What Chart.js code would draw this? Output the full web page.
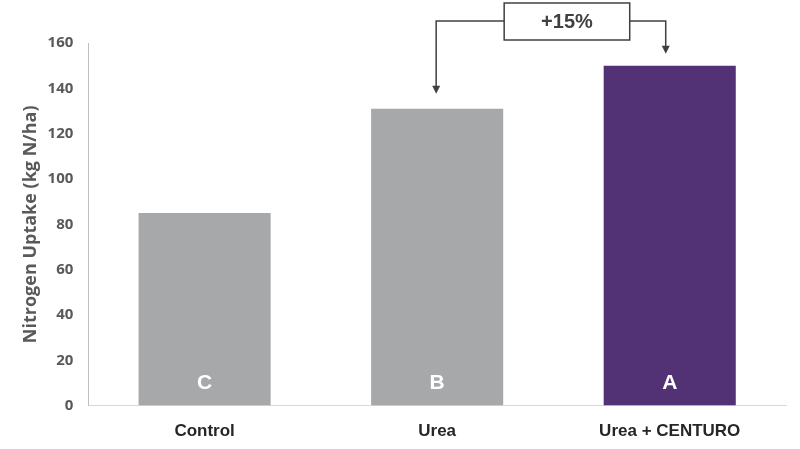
<!DOCTYPE html>
<html><head><meta charset="utf-8">
<script src="https://cdn.jsdelivr.net/npm/chart.js@4.4.1/dist/chart.umd.min.js"></script>
<style>html,body{margin:0;padding:0;background:#fff}#wrap{width:800px;height:449px;position:relative}</style>
</head><body><div id="wrap"><canvas id="c"></canvas></div>
<script>
const categories = ["Control", "Urea", "Urea + CENTURO"];
const uptake = [85, 131, 150];
const letters = ["C", "B", "A"];
const barColors = ["#a7a8aa", "#a7a8aa", "#523175"];
const yTicks = [0, 20, 40, 60, 80, 100, 120, 140, 160];
const yTitle = "Nitrogen Uptake (kg N/ha)";
const changeLabel = "+15%";

const overlay = {
  id: "overlay",
  afterDatasetsDraw(chart) {
    const ctx = chart.ctx;
    const meta = chart.getDatasetMeta(0);
    const y0 = chart.scales.y.getPixelForValue(0);
    ctx.save();
    ctx.fillStyle = "#ffffff";
    ctx.font = "bold 21px 'Liberation Sans', Arial, sans-serif";
    ctx.textAlign = "center";
    ctx.textBaseline = "middle";
    meta.data.forEach((bar, i) => {
      ctx.fillText(letters[i], bar.x, y0 - 22);
    });
    const b1 = meta.data[1], b2 = meta.data[2];
    const lx = b1.x - 1, rx = b2.x - 4;
    const boxL = b1.x + 67, boxR = b2.x - 40, boxT = 3, boxB = 40;
    const ly = 21;
    ctx.strokeStyle = "#404040";
    ctx.fillStyle = "#404040";
    ctx.lineWidth = 1.5;
    ctx.beginPath();
    ctx.moveTo(boxL, ly); ctx.lineTo(lx, ly); ctx.lineTo(lx, b1.y - 22);
    ctx.moveTo(boxR, ly); ctx.lineTo(rx, ly); ctx.lineTo(rx, b2.y - 19);
    ctx.stroke();
    const arrow = (x, tip) => {
      ctx.beginPath();
      ctx.moveTo(x - 4, tip - 8); ctx.lineTo(x + 4, tip - 8); ctx.lineTo(x, tip); ctx.closePath(); ctx.fill();
    };
    arrow(lx, b1.y - 15);
    arrow(rx, b2.y - 12);
    ctx.fillStyle = "#ffffff";
    ctx.fillRect(boxL, boxT, boxR - boxL, boxB - boxT);
    ctx.strokeRect(boxL, boxT, boxR - boxL, boxB - boxT);
    ctx.fillStyle = "#404040";
    ctx.font = "bold 20px 'Liberation Sans', Arial, sans-serif";
    ctx.fillText(changeLabel, (boxL + boxR) / 2, (boxT + boxB) / 2 + 1);
    ctx.restore();
  }
};

new Chart(document.getElementById("c"), {
  type: "bar",
  data: {
    labels: categories,
    datasets: [{ data: uptake, backgroundColor: barColors, borderWidth: 0, categoryPercentage: 1, barPercentage: 0.568 }]
  },
  options: {
    responsive: true, maintainAspectRatio: false, animation: false, devicePixelRatio: 1,
    layout: { padding: { top: 43, right: 14, bottom: 0, left: 20 } },
    plugins: { legend: { display: false }, tooltip: { enabled: false } },
    scales: {
      x: {
        afterFit: (s) => { s.height = s.height - 9; },
        grid: { display: false, drawTicks: false },
        border: { color: "#d9d9d9", width: 1 },
        ticks: { color: "#262626", font: { family: "'Liberation Sans', Arial, sans-serif", weight: "bold", size: 17 }, padding: 16 }
      },
      y: {
        min: 0, max: 160,
        afterBuildTicks: (s) => { s.ticks = yTicks.map(v => ({ value: v })); },
        afterFit: (s) => { s.width = s.width - 11; },
        grid: { display: false, drawTicks: false },
        border: { color: "#bfbfbf", width: 1 },
        ticks: { color: "#595959", font: { family: "'Open Sans', sans-serif", weight: "bold", size: 15 }, padding: 15 },
        title: { display: true, text: yTitle, color: "#595959", font: { family: "'Open Sans', sans-serif", weight: "bold", size: 18 }, padding: { top: 0, bottom: 2 } }
      }
    }
  },
  plugins: [overlay]
});
</script></body></html>
